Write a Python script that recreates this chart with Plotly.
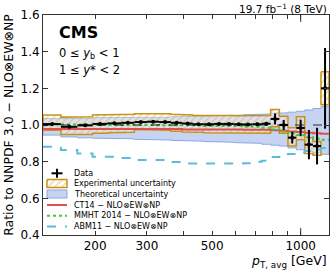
import math
import plotly.graph_objects as go

# ---------------- data ----------------
edges = [133, 153, 174, 196, 220, 245, 272, 300, 330, 362, 395, 430, 468, 507,
         548, 592, 638, 686, 737, 790, 846, 905, 967, 1032, 1101, 1172, 1248]

data_ratio = [1.005, 0.990, 0.998, 1.006, 1.009, 1.012, 1.016, 1.018, 1.016, 1.012,
              1.008, 1.004, 1.004, 1.006, 1.006, 1.004, 1.003, 1.004, 1.007, 1.033,
              1.000, 0.931, 0.984, 0.893, 0.885, 1.200]
data_stat = [0.004, 0.004, 0.004, 0.004, 0.004, 0.004, 0.004, 0.004, 0.004, 0.004,
             0.004, 0.004, 0.004, 0.004, 0.006, 0.006, 0.006, 0.010, 0.010, 0.030,
             0.027, 0.032, 0.045, 0.080, 0.100, 0.220]

exp_up = [1.055, 1.043, 1.045, 1.055, 1.055, 1.058, 1.062, 1.064, 1.062, 1.058,
          1.055, 1.052, 1.052, 1.055, 1.052, 1.050, 1.050, 1.050, 1.052, 1.085,
          1.048, 0.985, 1.045, 0.930, 0.910, 1.290]
exp_lo = [0.972, 0.948, 0.948, 0.955, 0.958, 0.960, 0.975, 0.975, 0.972, 0.966,
          0.962, 0.960, 0.958, 0.958, 0.958, 0.958, 0.956, 0.955, 0.955, 0.990,
          0.955, 0.885, 0.920, 0.845, 0.835, 1.110]

theo_up = [1.035, 1.035, 1.035, 1.040, 1.040, 1.040, 1.040, 1.042, 1.042, 1.045,
           1.045, 1.047, 1.048, 1.050, 1.052, 1.054, 1.056, 1.058, 1.060, 1.064,
           1.066, 1.070, 1.075, 1.082, 1.090, 1.100]
theo_lo = [0.945, 0.935, 0.930, 0.928, 0.925, 0.925, 0.922, 0.920, 0.918, 0.916,
           0.914, 0.912, 0.910, 0.908, 0.906, 0.904, 0.902, 0.900, 0.895, 0.890,
           0.885, 0.875, 0.865, 0.855, 0.848, 0.840]

ct14 = [0.978, 0.978, 0.978, 0.978, 0.978, 0.978, 0.978, 0.978, 0.978, 0.978,
        0.976, 0.976, 0.976, 0.976, 0.976, 0.976, 0.974, 0.974, 0.974, 0.972,
        0.968, 0.965, 0.962, 0.958, 0.955, 0.952]
mmht = [1.003, 1.003, 1.003, 1.000, 1.000, 1.000, 1.000, 1.000, 0.998, 0.998,
        0.998, 0.998, 0.995, 0.995, 0.995, 0.995, 0.990, 0.990, 0.985, 0.975,
        0.965, 0.955, 0.945, 0.935, 0.925, 0.920]
abm11 = [0.882, 0.864, 0.845, 0.827, 0.827, 0.820, 0.809, 0.809, 0.809, 0.798,
         0.790, 0.790, 0.790, 0.790, 0.790, 0.790, 0.792, 0.800, 0.805, 0.825,
         0.834, 0.842, 0.850, 0.858, 0.866, 0.874]

legend_labels = ["Data", "Experimental uncertainty", "Theoretical uncertainty",
                 "CT14 − NLO⊗EW⊗NP", "MMHT 2014 − NLO⊗EW⊗NP", "ABM11 − NLO⊗EW⊗NP"]

x_tickvals = [200, 300, 500, 1000]
x_ticktext = ["200", "300", "500", "1000"]
x_minor = [400, 600, 700, 800, 900]
y_tickvals = [0.4, 0.6, 0.8, 1.0, 1.2, 1.4, 1.6]

# ---------------- styles ----------------
FONT = "DejaVu Sans"
C_EXP_LINE = "#c8921a"
C_EXP_HATCH = "#e3a83a"
C_THEO_FILL = "rgba(130,160,225,0.45)"
C_THEO_LINE = "#8aa8e4"
C_CT14 = "#e0504f"
C_MMHT = "#3cc83c"
C_ABM = "#5bbcdc"

W, H = 332, 273
ML, MR, MT, MB = 43, 3, 15, 38
PW, PH = W - ML - MR, H - MT - MB

n = len(data_ratio)
lo_e = edges[:-1]
hi_e = edges[1:]
centers = [(a + b) / 2 for a, b in zip(lo_e, hi_e)]


def band_polygon(i0, i1, up, lo):
    xs, ys = [], []
    for i in range(i0, i1):
        xs += [lo_e[i], hi_e[i]]
        ys += [up[i], up[i]]
    for i in range(i1 - 1, i0 - 1, -1):
        xs += [hi_e[i], lo_e[i]]
        ys += [lo[i], lo[i]]
    xs.append(xs[0])
    ys.append(ys[0])
    return xs, ys


def steps(vals):
    return list(edges), list(vals) + [vals[-1]]


def px(x):
    return (x - ML) / PW


def py(y):
    return (H - MB - y) / PH


fig = go.Figure()

# theoretical uncertainty band
tx, ty = band_polygon(0, n, theo_up, theo_lo)
fig.add_trace(go.Scatter(x=tx, y=ty, mode="lines", fill="toself",
                         fillcolor=C_THEO_FILL, line=dict(color=C_THEO_LINE, width=1),
                         hoverinfo="skip", showlegend=False))

# reference line at 1
fig.add_shape(type="line", xref="paper", x0=0, x1=1, yref="y", y0=1, y1=1,
              line=dict(color="black", width=0.8, dash="dash"))

# experimental uncertainty (hatched)
ex1, ey1 = band_polygon(0, n - 1, exp_up, exp_lo)
ex2, ey2 = band_polygon(n - 1, n, exp_up, exp_lo)
HATCH = dict(shape="/", fgcolor=C_EXP_HATCH, bgcolor="rgba(255,248,235,0.35)",
             size=5, solidity=0.25)
fig.add_trace(go.Scatter(x=ex1 + [None] + ex2, y=ey1 + [None] + ey2, mode="lines",
                         fill="toself", fillcolor="rgba(255,245,225,0.35)",
                         fillpattern=HATCH, line=dict(color=C_EXP_LINE, width=1.5),
                         hoverinfo="skip", showlegend=False))

# theory curves
for vals, col, dash in [(abm11, C_ABM, "dash"), (ct14, C_CT14, "solid"),
                        (mmht, C_MMHT, "dot")]:
    sx, sy = steps(vals)
    fig.add_trace(go.Scatter(x=sx, y=sy, mode="lines", line_shape="hv",
                             line=dict(color=col, width=2, dash=dash),
                             hoverinfo="skip", showlegend=False))

# data
fig.add_trace(go.Scatter(
    x=centers, y=data_ratio, mode="markers",
    marker=dict(color="black", size=4),
    error_x=dict(type="data", symmetric=False,
                 array=[h - c for h, c in zip(hi_e, centers)],
                 arrayminus=[c - l for c, l in zip(centers, lo_e)],
                 color="black", thickness=2, width=0),
    error_y=dict(type="data", array=data_stat, color="black", thickness=2, width=0),
    showlegend=False))

# ---------------- hand-drawn legend (pixel overlay axes) ----------------
LX = dict(xaxis="x2", yaxis="y2", hoverinfo="skip", showlegend=False)
row_y = [173.3, 183.5, 194.0, 205.0, 215.8, 226.5]
fig.add_trace(go.Scatter(x=[51.5, 62.5, None, 57, 57],
                         y=[row_y[0], row_y[0], None, row_y[0] - 4.5, row_y[0] + 4.5],
                         mode="lines", line=dict(color="black", width=2), **LX))
fig.add_trace(go.Scatter(x=[47, 67, 67, 47, 47],
                         y=[row_y[1] - 4, row_y[1] - 4, row_y[1] + 4, row_y[1] + 4, row_y[1] - 4],
                         mode="lines", fill="toself", fillcolor="rgba(255,245,225,0.35)",
                         fillpattern=HATCH, line=dict(color=C_EXP_LINE, width=1.5), **LX))
fig.add_trace(go.Scatter(x=[47, 67, 67, 47, 47],
                         y=[row_y[2] - 4, row_y[2] - 4, row_y[2] + 4, row_y[2] + 4, row_y[2] - 4],
                         mode="lines", fill="toself", fillcolor=C_THEO_FILL,
                         line=dict(color=C_THEO_LINE, width=1), **LX))
for ry, col, dash in [(row_y[3], C_CT14, "solid"), (row_y[4], C_MMHT, "dot"),
                      (row_y[5], C_ABM, "dash")]:
    fig.add_trace(go.Scatter(x=[47, 67], y=[ry, ry], mode="lines",
                             line=dict(color=col, width=2, dash=dash), **LX))

annotations = []
for ry, lab in zip(row_y, legend_labels):
    annotations.append(dict(x=px(72), y=py(ry), xref="paper", yref="paper", text=lab,
                            showarrow=False, xanchor="left", yanchor="middle",
                            font=dict(family=FONT, size=8, color="black")))

annotations += [
    dict(x=px(57), y=py(32.5), xref="paper", yref="paper", text="<b>CMS</b>",
         showarrow=False, xanchor="left", yanchor="middle",
         font=dict(family=FONT, size=16, color="black")),
    dict(x=px(57), y=py(53), xref="paper", yref="paper",
         text="0 ≤ <i>y</i><sub>b</sub> &lt; 1",
         showarrow=False, xanchor="left", yanchor="middle",
         font=dict(family=FONT, size=11.5, color="black")),
    dict(x=px(57), y=py(69.5), xref="paper", yref="paper", text="1 ≤ <i>y</i>* &lt; 2",
         showarrow=False, xanchor="left", yanchor="middle",
         font=dict(family=FONT, size=11.5, color="black")),
    dict(x=1, y=py(8), xref="paper", yref="paper",
         text="19.7 fb<sup>−1</sup> (8 TeV)",
         showarrow=False, xanchor="right", yanchor="middle",
         font=dict(family=FONT, size=10.5, color="black")),
    dict(x=1, y=py(261), xref="paper", yref="paper",
         text="<i>p</i><sub>T, avg</sub> [GeV]",
         showarrow=False, xanchor="right", yanchor="middle",
         font=dict(family=FONT, size=12.5, color="black")),
]

# longer major tick at 1000 (bottom and top)
for y0, y1 in [(0, 0.032), (1, 0.968)]:
    fig.add_shape(type="line", xref="x", x0=1000, x1=1000, yref="paper", y0=y0, y1=y1,
                  line=dict(color="#333", width=1))

fig.update_layout(
    width=W, height=H,
    margin=dict(l=ML, r=MR, t=MT, b=MB, autoexpand=False),
    paper_bgcolor="white", plot_bgcolor="white",
    font=dict(family=FONT, size=12, color="black"),
    annotations=annotations,
    xaxis=dict(type="log", range=[math.log10(edges[0]), math.log10(edges[-1])],
               autorange=False, automargin=False,
               tickvals=x_tickvals, ticktext=x_ticktext,
               ticks="inside", ticklen=4, tickcolor="#333",
               minor=dict(tickvals=x_minor, ticks="inside", ticklen=4, tickcolor="#333"),
               showline=True, linecolor="#333", linewidth=1, mirror="ticks",
               showgrid=False, zeroline=False, tickfont=dict(size=12)),
    yaxis=dict(range=[0.4, 1.6], autorange=False, automargin=False,
               tickvals=y_tickvals, ticktext=[f"{v:.1f}" for v in y_tickvals],
               ticks="inside", ticklen=5, tickcolor="#333",
               showline=True, linecolor="#333", linewidth=1, mirror="ticks",
               showgrid=False, zeroline=False, tickfont=dict(size=12),
               title=dict(text="Ratio to NNPDF 3.0 − NLO⊗EW⊗NP",
                          font=dict(size=12.5), standoff=4)),
    xaxis2=dict(overlaying="x", range=[ML, ML + PW], visible=False, anchor="y2",
                automargin=False, showticklabels=False),
    yaxis2=dict(overlaying="y", range=[MT + PH, MT], visible=False, anchor="x2",
                automargin=False, showticklabels=False),
)

fig.write_html(
    "out.html",
    config={"displayModeBar": False},
    post_script="document.body.style.margin='0';document.body.style.padding='0';"
                "document.body.style.overflow='hidden';"
                "document.documentElement.style.overflow='hidden';",
)
